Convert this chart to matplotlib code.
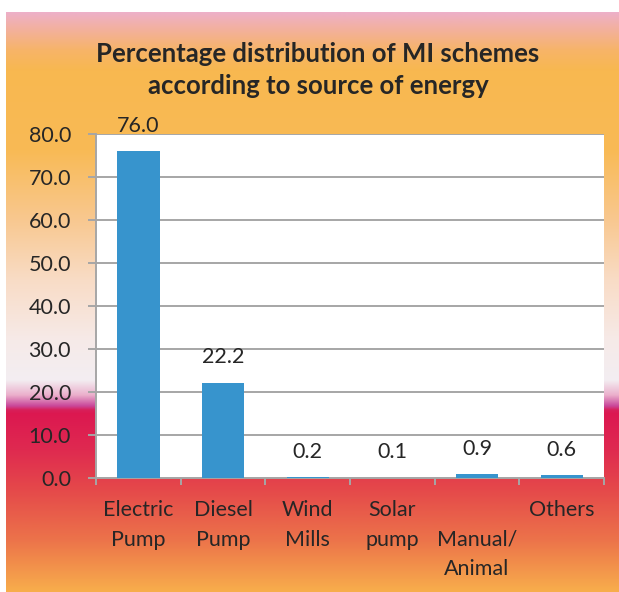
import numpy as np
import matplotlib
matplotlib.use("Agg")
import matplotlib.pyplot as plt
from matplotlib.colors import LinearSegmentedColormap
from matplotlib.ticker import FixedLocator

categories = ["Electric\nPump", "Diesel\nPump", "Wind\nMills", "Solar\npump", "\nManual/\nAnimal", "Others"]
values = [76.0, 22.2, 0.2, 0.1, 0.9, 0.6]
yticks = [0, 10, 20, 30, 40, 50, 60, 70, 80]

plt.rcParams['font.family'] = ['Lato', 'DejaVu Sans']
text_color = "#262626"
bar_color = "#3794CD"
grid_color = "#A6A6A6"

W, H = 619, 592
fig = plt.figure(figsize=(W / 100, H / 100), dpi=100)
fig.patch.set_facecolor("white")

# gradient background of the chart area (pixel y -> colour)
stops = [(12, "#EDB0C9"), (25, "#F2B0A8"), (50, "#F7B468"), (70, "#F8B850"),
         (150, "#F9BA55"), (220, "#F8C890"), (280, "#F9DCC6"), (340, "#F6EAE8"),
         (380, "#F3EEF2"), (395, "#EBB0CC"), (406, "#C9479A"), (410, "#D8205A"),
         (414, "#DC1850"), (450, "#DF2A50"), (490, "#E5494A"), (540, "#EC734A"),
         (592, "#F8AE4C")]
cmap = LinearSegmentedColormap.from_list(
    "bg", [((y - 12) / (592 - 12), c) for y, c in stops], N=1024)
bg = fig.add_axes([6 / W, 0, 1 - 6 / W, 1 - 12 / H], zorder=0)
bg.imshow(np.linspace(0, 1, 1024).reshape(-1, 1), aspect="auto", cmap=cmap,
          extent=[0, 1, 0, 1], origin="upper")
bg.axis("off")

ax = fig.add_axes([96 / W, 1 - 478 / H, (604 - 96) / W, (478 - 134) / H], zorder=1)
ax.set_facecolor("white")
x = np.arange(len(categories))
ax.bar(x, values, width=0.5, color=bar_color, zorder=3)

for xi, v in zip(x, values):
    ax.annotate(f"{v:.1f}", (xi, v), xytext=(0, 11), textcoords="offset points",
                ha="center", va="bottom", fontsize=15.5, color=text_color,
                annotation_clip=False)

ax.set_xlim(-0.5, len(categories) - 0.5)
ax.set_ylim(0, 80)
ax.set_yticks(yticks)
ax.set_yticklabels([f"{t:.1f}" for t in yticks])
ax.yaxis.grid(True, color=grid_color, linewidth=1.4, zorder=1)
ax.set_axisbelow(True)

ax.set_xticks(x)
ax.set_xticklabels(categories, linespacing=1.6)
ax.xaxis.set_minor_locator(FixedLocator(np.arange(-0.5, len(categories), 1.0)))
ax.tick_params(axis="x", which="major", length=0, pad=16, labelsize=15.5, labelcolor=text_color)
ax.tick_params(axis="x", which="minor", length=5, width=1.4, color=grid_color, direction="out")
ax.tick_params(axis="y", length=6, width=1.4, color=grid_color, pad=12,
               labelsize=15.5, labelcolor=text_color)

for s in ["top", "right"]:
    ax.spines[s].set_visible(False)
for s in ["left", "bottom"]:
    ax.spines[s].set_color(grid_color)
    ax.spines[s].set_linewidth(1.4)

fig.text(318 / W, 1 - 70 / H, "Percentage distribution of MI schemes\naccording to source of energy",
         ha="center", va="center", fontsize=18.5, fontweight="bold", color=text_color,
         linespacing=1.4)

fig.savefig("out.png", dpi=100)
